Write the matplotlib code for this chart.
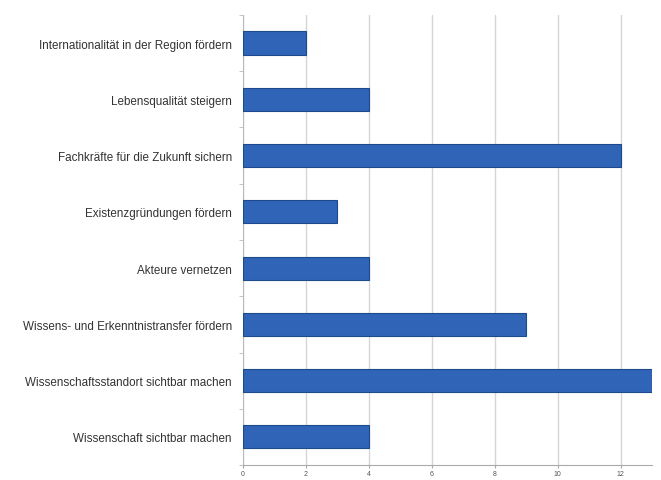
import matplotlib
matplotlib.use("Agg")
import matplotlib.pyplot as plt
import numpy as np

# Kategorien von oben nach unten
kategorien = [
    "Internationalität in der Region fördern",
    "Lebensqualität steigern",
    "Fachkräfte für die Zukunft sichern",
    "Existenzgründungen fördern",
    "Akteure vernetzen",
    "Wissens- und Erkenntnistransfer fördern",
    "Wissenschaftsstandort sichtbar machen",
    "Wissenschaft sichtbar machen",
]
anzahl = [2, 4, 12, 3, 4, 9, 13, 4]
x_ticks = [0, 2, 4, 6, 8, 10, 12]

plt.rcParams['font.family'] = ['Liberation Sans', 'DejaVu Sans']

fig = plt.figure(figsize=(6.61, 4.81), dpi=100)
ax = fig.add_axes([0.3676, 0.031, 0.6188, 0.936])

y = np.arange(len(kategorien))[::-1]  # erste Kategorie oben
ax.barh(y, anzahl, height=0.41, color="#2f64b6", edgecolor="#1d4a8c", linewidth=0.8, zorder=3)

ax.set_xlim(0, 13)
ax.set_ylim(-0.5, len(kategorien) - 0.5)
ax.set_xticks(x_ticks)
ax.set_xticklabels([str(v) for v in x_ticks], fontsize=5, color="#555555")
ax.set_yticks(y)
ax.set_yticklabels(kategorien, fontsize=8.4, color="#333333")
ax.tick_params(axis="y", length=0, pad=8)
ax.tick_params(axis="x", length=2, color="#aaaaaa", pad=1.5)
# kleine Striche zwischen den Kategorien
ax.set_yticks(np.arange(-0.5, len(kategorien), 1.0), minor=True)
ax.tick_params(axis="y", which="minor", length=3, color="#bbbbbb")

ax.grid(axis="x", color="#d6d6d6", linewidth=1.0, zorder=0)
for side in ["top", "right"]:
    ax.spines[side].set_visible(False)
ax.spines["left"].set_color("#bbbbbb")
ax.spines["bottom"].set_color("#aaaaaa")

plt.savefig("out.png", dpi=100)
plt.close()
